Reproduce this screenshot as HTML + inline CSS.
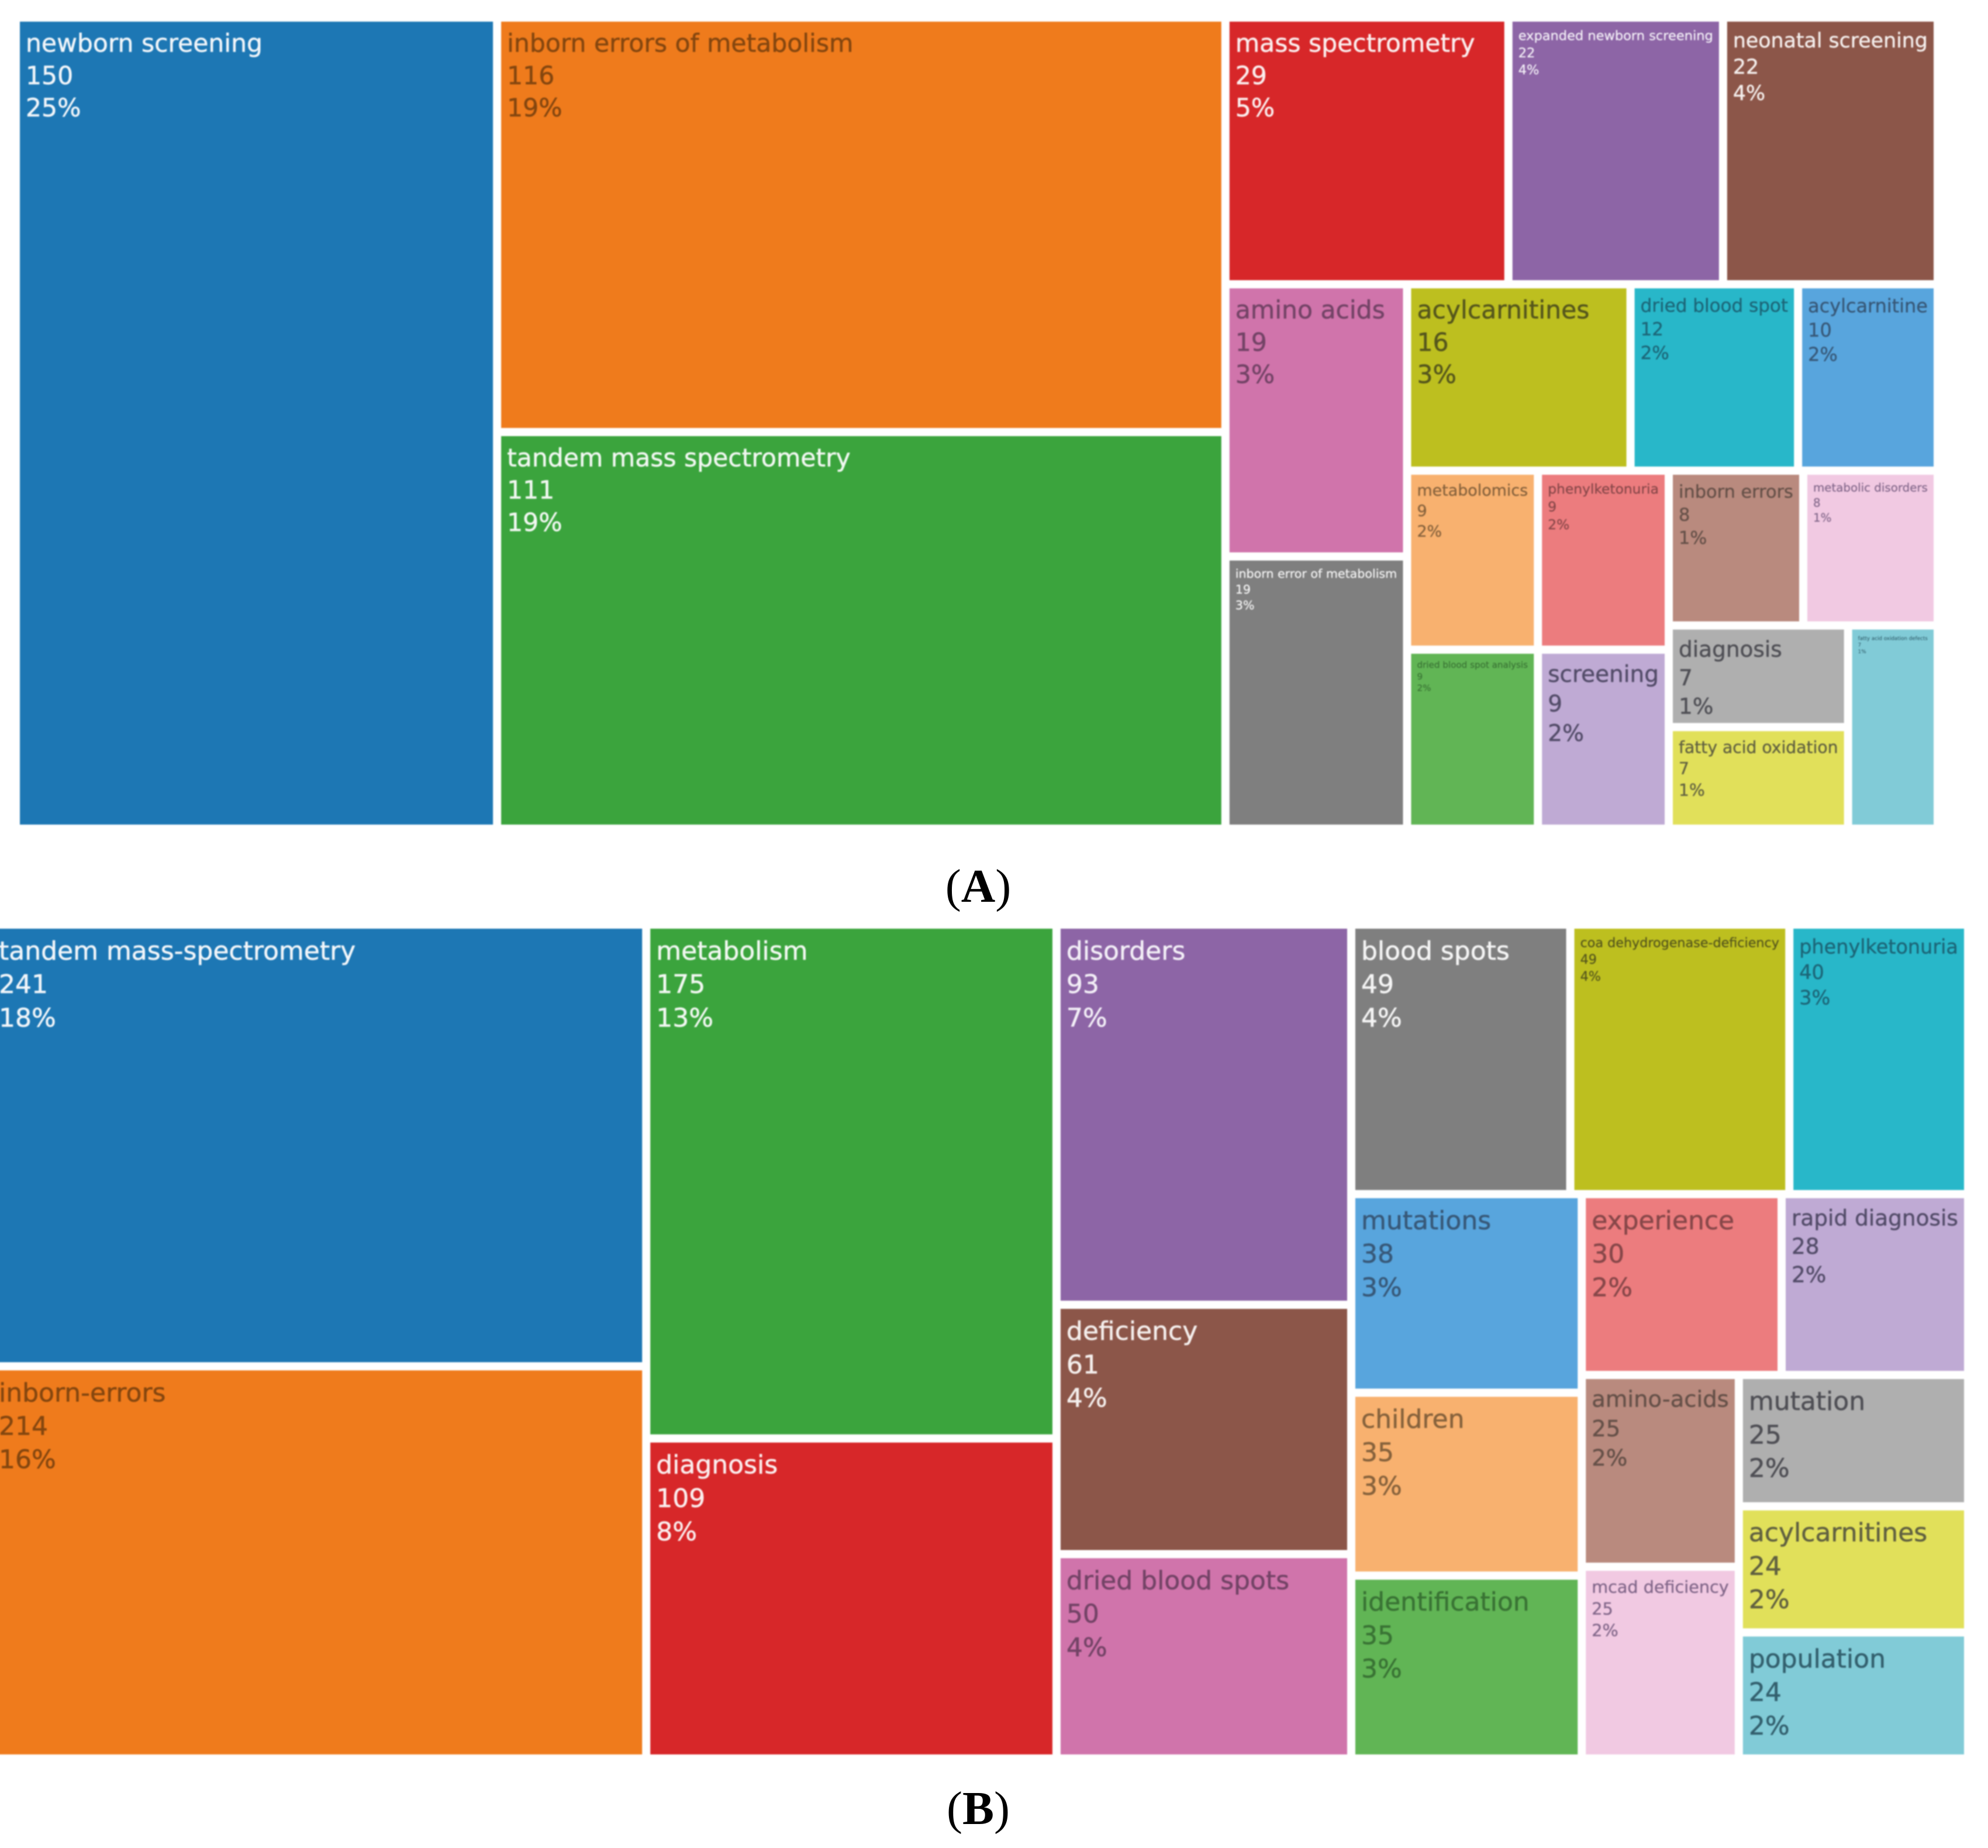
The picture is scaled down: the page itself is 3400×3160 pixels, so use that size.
<!DOCTYPE html>
<html lang="en">
<head>
<meta charset="utf-8">
<title>Treemaps of keywords</title>
<style>
html,body{margin:0;padding:0;background:#fff;width:3400px;height:3160px;overflow:hidden}
svg{display:block}
.cell-text{font-family:"DejaVu Sans","Liberation Sans",sans-serif;stroke-linejoin:round}
.caption{font-family:"Liberation Serif",serif;font-size:81px;fill:#000;text-anchor:middle}
.caption tspan.bold{font-weight:bold}
.soft{filter:blur(1.1px)}
</style>
</head>
<body>
<svg id="figure" xmlns="http://www.w3.org/2000/svg" width="3400" height="3160" viewBox="0 0 3400 3160">
  <g id="panelA" class="soft"></g>
  <text class="caption" x="1673" y="1542">(<tspan class="bold">A</tspan>)</text>
  <g id="panelB" class="soft"></g>
  <text class="caption" x="1673" y="3119">(<tspan class="bold">B</tspan>)</text>
</svg>
<script>
const categoriesA = ["newborn screening","inborn errors of metabolism","tandem mass spectrometry","mass spectrometry","expanded newborn screening","neonatal screening","amino acids","inborn error of metabolism","acylcarnitines","dried blood spot","acylcarnitine","metabolomics","dried blood spot analysis","phenylketonuria","screening","inborn errors","metabolic disorders","diagnosis","fatty acid oxidation","fatty acid oxidation defects"];
const valuesA = [150,116,111,29,22,22,19,19,16,12,10,9,9,9,9,8,8,7,7,7];

const categoriesB = ["tandem mass-spectrometry","inborn-errors","metabolism","diagnosis","disorders","deficiency","dried blood spots","blood spots","coa dehydrogenase-deficiency","phenylketonuria","mutations","children","identification","experience","rapid diagnosis","amino-acids","mcad deficiency","mutation","acylcarnitines","population"];
const valuesB = [241,214,175,109,93,61,50,49,49,40,38,35,35,30,28,25,25,25,24,24];

const palette = ["#1d77b4","#ef7b1c","#3ba43d","#d72729","#8d65a6","#8c5649","#d074ab","#7f7f7f","#bdbf1f","#28b7c9","#58a5dd","#f8b16f","#61b555","#ec7c7e","#bfaad4","#b98a7e","#f1c9e2","#afafaf","#e1e05a","#81cbd7"];
const inkPalette = ["#f2f6fa","#84460f","#f2f8f2","#fbeeee","#f3eff7","#f5efed","#734366","#f5f5f5","#55561c","#1c6678","#375878","#86623c","#397334","#874749","#534c69","#655048","#82678a","#4f4f55","#606040","#33606e"];

const SVG_NS = "http://www.w3.org/2000/svg";

function squarify(values, x0, y0, x1, y1) {
  const items = values.map(function (v, i) { return { value: v, index: i }; });
  items.sort(function (a, b) { return b.value - a.value || a.index - b.index; });
  const n = items.length;
  let remaining = items.reduce(function (s, d) { return s + d.value; }, 0);
  let i0 = 0, i1 = 0;
  while (i0 < n) {
    const dx = x1 - x0, dy = y1 - y0;
    let sum = items[i1++].value;
    let minV = sum, maxV = sum;
    const alpha = Math.max(dy / dx, dx / dy) / remaining;
    let beta = sum * sum * alpha;
    let minRatio = Math.max(maxV / beta, beta / minV);
    for (; i1 < n; ++i1) {
      const v = items[i1].value;
      sum += v;
      if (v < minV) minV = v;
      if (v > maxV) maxV = v;
      beta = sum * sum * alpha;
      const r = Math.max(maxV / beta, beta / minV);
      if (r > minRatio) { sum -= v; break; }
      minRatio = r;
    }
    const row = items.slice(i0, i1);
    if (dx < dy) {
      const yEnd = y0 + dy * sum / remaining;
      let x = x0;
      row.forEach(function (d) {
        d.x0 = x; x += dx * d.value / sum; d.x1 = x; d.y0 = y0; d.y1 = yEnd;
      });
      y0 = yEnd;
    } else {
      const xEnd = x0 + dx * sum / remaining;
      let y = y0;
      row.forEach(function (d) {
        d.y0 = y; y += dy * d.value / sum; d.y1 = y; d.x0 = x0; d.x1 = xEnd;
      });
      x0 = xEnd;
    }
    remaining -= sum;
    i0 = i1;
  }
  return items;
}

function slug(s) {
  return s.toLowerCase().replace(/[^a-z0-9]+/g, "-");
}

function drawTreemap(group, prefix, names, values, frame, baseFont) {
  const total = values.reduce(function (s, v) { return s + v; }, 0);
  const gap = 7, pad = 10;
  const nodes = squarify(values, frame.x, frame.y, frame.x + frame.w, frame.y + frame.h);
  nodes.forEach(function (d, order) {
    const x = d.x0 + gap, y = d.y0 + gap;
    const w = d.x1 - d.x0 - 2 * gap, h = d.y1 - d.y0 - 2 * gap;

    const cell = document.createElementNS(SVG_NS, "g");
    
    

    const rect = document.createElementNS(SVG_NS, "rect");
    
    
    rect.setAttribute("x", x);
    rect.setAttribute("y", y);
    rect.setAttribute("width", w);
    rect.setAttribute("height", h);
    rect.setAttribute("fill", palette[order % palette.length]);
    cell.appendChild(rect);

    const label = document.createElementNS(SVG_NS, "text");
    
    
    label.setAttribute("class", "cell-text");
    label.setAttribute("fill", inkPalette[order % inkPalette.length]);
    label.setAttribute("font-size", baseFont);
    const lines = [names[d.index], String(d.value), Math.round(d.value / total * 100) + "%"];
    const spans = lines.map(function (line) {
      const t = document.createElementNS(SVG_NS, "tspan");
      t.textContent = line;
      label.appendChild(t);
      return t;
    });
    cell.appendChild(label);
    group.appendChild(cell);

    label.setAttribute("x", x + pad);
    label.setAttribute("y", y);
    const measured = spans[0].getComputedTextLength();
    const widthFit = (w - 2 * pad) / measured;
    const heightFit = (h - 25) / (3.6 * baseFont);
    const fit = Math.min(1, widthFit, heightFit);
    const fs = baseFont * fit;
    label.setAttribute("font-size", fs);
    label.setAttribute("stroke", inkPalette[order % inkPalette.length]);
    label.setAttribute("stroke-width", fs * 0.012);
    const base = y + 9 + fs;
    spans.forEach(function (t, k) {
      t.setAttribute("x", x + pad);
      t.setAttribute("y", base + k * fs * 1.3);
    });
  });
}

drawTreemap(document.getElementById("panelA"), "a", categoriesA, valuesA, { x: 27, y: 30, w: 3287, h: 1387 }, 42.5);
drawTreemap(document.getElementById("panelB"), "b", categoriesB, valuesB, { x: -19, y: 1581, w: 3385, h: 1426 }, 44);
</script>
</body>
</html>
